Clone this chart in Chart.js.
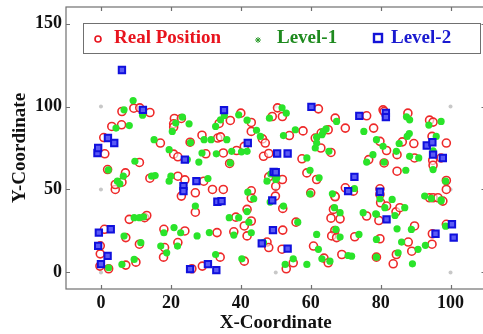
<!DOCTYPE html>
<html>
<head>
<meta charset="utf-8">
<script src="https://cdn.jsdelivr.net/npm/chart.js@4.4.1/dist/chart.umd.min.js"></script>
<style>
  html, body { margin: 0; padding: 0; background: #fff; overflow: hidden; }
  /* a bit wider than the window: the right edge of the box runs off the picture */
  #wrap { width: 492px; height: 334px; }
</style>
</head>
<body>
<div id="wrap"><canvas id="chart"></canvas></div>
<script>
// tick labels
const xTicks = [0, 20, 40, 60, 80, 100];
const yTicks = [0, 50, 100, 150];

// anchor nodes (light grey dots)
const anchors = [[0,0],[0,50],[0,100],[50,0],[50,50],[50,100],[100,0],[100,50],[100,100]];

// real node positions (red circles)
const realPos = [
  [9.4,99],[11.1,99.2],[6,97],[14,96.4],[5.9,89],[3.1,88],[0.8,81.3],[1.1,71.5],[11,66.3],[7,60],
  [4.1,50],[4.1,53],[6,54.4],[14,56.8],[1.9,62],[17,78],[21,92.8],[20.8,89.6],[20.8,87.6],[23,92.8],
  [20.8,71.3],[22,69.7],[22,58],[24,55.8],[25.5,78.5],[28.9,82.7],[30,71.5],[29.4,55],[27,48],[31.9,50],
  [35,50],[33.4,81],[34.2,81.7],[33.8,89.8],[37,91.6],[36.8,65.7],[35,72],[40,96],[38.8,73.5],[41,76],
  [43,90.4],[43,85],[46.2,80.5],[47,78],[46.5,70],[48,71.7],[48,57.6],[50,52],[50.5,99.2],[51.9,94],
  [49,94],[51.9,56],[53.9,82.5],[57.8,85.3],[57.5,68.5],[58.9,60],[60,48],[62.2,98.6],[61.3,81],[62.9,75],
  [61.7,56],[65,86],[63,84],[67,93],[65.8,72.3],[69.9,87],[69.9,51],[72.2,49],[66.9,46],[76,94.4],
  [78,87],[76.6,68],[79.8,79],[80.7,98],[81,97],[81.7,73.5],[81,66],[79.8,50.4],[79.8,47],[84.7,61],
  [84.7,71],[86.2,78.7],[87.8,96],[89.5,77.7],[89.7,69],[94,91.8],[95,90.6],[94.7,82],[94.9,67.5],[95,64.6],
  [98.8,78],[98.8,55.4],[98.8,50],[97.3,69],[94,45],[95,45],[96.4,45],[97.8,43],
  [1,26],[-0.2,16],[-0.2,11.2],[-0.3,3.8],[2.2,2.2],[7.1,4.4],[10,6.2],[8.1,32],[7.1,21],[11,17],
  [12.5,33],[13.1,34.3],[18,26],[18.2,15],[17.9,9.2],[22,18],[24,25],[23,46],[27,36.3],[26,2.2],
  [29,3.8],[33.2,24],[34.1,9.2],[38,24.5],[38.6,33.3],[41,28],[41,6.8],[41.8,38],[41.8,22],[43,49.2],
  [43,44.8],[43,31],[47.5,18.3],[48,15],[49.9,46],[52,25.5],[52,38.6],[51.8,14],[53,2.2],[55,5.8],
  [55.8,30.3],[60.8,15.9],[63.8,8.6],[65,5.8],[65.8,32.7],[67,45.6],[66.5,38],[66.9,25.3],[66,22],[67.4,21],
  [68.4,32.3],[68.9,10.8],[72.6,21.5],[76,34],[79.5,31.3],[79.8,20.3],[78.8,9.2],[80,42],[81.7,40],[83.6,5.2],
  [84.4,36.5],[84.5,10.8],[85.5,39],[87.9,18.3],[88.9,12.8],[89.7,28],[94.7,17],[94.8,23.3],[98.8,29]
];

// level-1 estimates (green)
const level1 = [
  [9.2,103.6],[11.9,94.8],[6.6,98],[4.3,87],[8.1,88.5],[2.1,61.8],[9.7,67],[4.7,55],[5.4,53.4],[6.4,58],
  [15.2,80],[14.5,58],[15.5,58.4],[19.5,74],[19.5,55],[20,58],[20.4,85],[21.4,90],[23.3,93.6],[25.2,89.6],
  [24.7,68],[25.6,78.3],[28,66.5],[28.9,72],[29.5,80],[30.6,56.6],[31.5,80],[32.8,88],[34.2,92],[35.3,94.6],
  [33,71.5],[36,80],[37,66],[37.4,73],[39.4,95],[40.2,72.7],[41.8,73],[41.8,91.8],[44.5,85.7],[45.6,82],
  [48.2,93],[47.5,55],[48.6,59.4],[51.8,99.2],[53,96],[52.2,82.5],[50.3,57],[55.6,86],[59.8,61.6],[58.9,69],
  [59.8,47.4],[61.7,81.5],[61.3,75],[61.7,78],[62.4,57],[63.2,83],[63.6,85],[64.4,86.5],[67.4,91],[65.2,73],
  [75.2,85],[76,66.5],[77.8,71],[78.8,80],[80.7,76],[81,66.4],[85.3,77.7],[87.6,82],[88.2,83.7],[87.4,93.8],
  [88.3,92],[84.5,73],[87.2,61.6],[88.3,70],[90.9,69],[93.8,88.8],[97.3,91],[95.9,82],[95,73.3],[95,62],
  [98.6,55],[97.3,43],[92.6,46],[79.8,44.4],[78.6,35.3],[72.5,50.6],
  [2.2,2.8],[6,4.8],[6.6,21.9],[9.5,7.8],[9.5,33],[11,33],[12.2,33.5],[11.4,17.9],[17.1,15.9],[18,23.9],
  [18.8,11.8],[20.9,27],[21.9,15.9],[22.8,23.9],[27,40],[27.5,22],[31,24],[32.8,10.8],[36.7,33],[38,22.5],
  [39.4,33],[40.3,8.2],[41.8,36.7],[42.3,30.3],[42,48.4],[43.7,44.4],[43,23.9],[46.5,17.9],[48.4,42.4],[50,56],
  [52.2,40],[52.7,4.8],[55,8.2],[56.3,30.3],[58.9,4.8],[61.7,22.9],[62.2,13.9],[63.2,8.2],[65.5,6.8],[66.2,47.4],
  [66.8,39],[67.2,25.9],[68.4,21.3],[68.4,36],[70.7,10.2],[71.7,9.8],[73.8,22.9],[75,36],[78.8,35],[78.8,19.9],
  [78.8,9.2],[81.2,39],[83.3,44],[84.1,34.3],[84.7,26.3],[85,11.8],[86.9,39],[86,18.3],[88.8,25.9],[89.1,5.2],
  [90.7,13.9],[92.8,16.3],[97.3,43.8],[94.5,44.6],[98.6,27.9]
];

// level-2 estimates (blue squares)
const level2 = [
  [6,122],[-1,72],[-0.8,75],[2,81],[3.8,78],[12,98],[-0.6,24],[2.8,26],[-0.8,16],[1.9,10],
  [0,5],[24,68],[23.6,52],[23.6,49],[27.3,55],[25.5,2],[30.6,5],[33,1.4],[33.3,42.6],[34.5,43],
  [35.2,97.8],[42,78],[46,17.5],[49.2,25.5],[49,43.4],[49.4,60.6],[50,60.4],[50.4,71.7],[53.4,71.7],[53.4,14.3],
  [60.2,99.8],[72.5,57.6],[70.7,49],[73.9,94.4],[81.5,96.2],[81.5,93.6],[79.8,48.6],[81.7,32],[93.2,76.5],[94.8,78.5],
  [95,71],[97.8,69],[95.7,23.3],[100.4,29],[100.9,21]
];

const toXY = arr => arr.map(p => ({ x: p[0], y: p[1] }));
const FONT = "'Liberation Serif', 'Times New Roman', serif";

// no extra room for tick labels at the ends
function noPad(s) {
  s.paddingTop = 0; s.paddingBottom = 0;
  s.paddingLeft = 0; s.paddingRight = 0;
}

// box round the plot, inward ticks on all sides
const frame = {
  id: "frame",
  afterDraw(chart) {
    const { ctx, chartArea: a, scales } = chart;
    ctx.save();
    ctx.strokeStyle = "#707070";
    ctx.lineWidth = 1.2;
    ctx.strokeRect(a.left, a.top, a.right - a.left, a.bottom - a.top);
    ctx.beginPath();
    xTicks.forEach(v => {
      const px = Math.round(scales.x.getPixelForValue(v)) + 0.5;
      ctx.moveTo(px, a.bottom); ctx.lineTo(px, a.bottom - 4);
      ctx.moveTo(px, a.top); ctx.lineTo(px, a.top + 4);
    });
    yTicks.forEach(v => {
      const py = Math.round(scales.y.getPixelForValue(v)) + 0.5;
      ctx.moveTo(a.left, py); ctx.lineTo(a.left + 4, py);
      ctx.moveTo(a.right, py); ctx.lineTo(a.right - 4, py);
    });
    ctx.stroke();
    ctx.restore();
  }
};

// legend box sits inside the plot, like the matlab one
const boxLegend = {
  id: "boxLegend",
  afterDatasetsDraw(chart) {
    const { ctx } = chart;
    ctx.save();
    ctx.fillStyle = "#fff";
    ctx.fillRect(83, 23, 397, 30);
    ctx.strokeStyle = "#707070";
    ctx.lineWidth = 1;
    ctx.strokeRect(83.5, 23.5, 397, 30);
    const cy = 38;
    // markers
    ctx.strokeStyle = "#e8141e";
    ctx.lineWidth = 1.6;
    ctx.beginPath(); ctx.arc(98, cy + 1, 3, 0, Math.PI * 2); ctx.stroke();
    ctx.strokeStyle = "#2a9a2a";
    ctx.lineWidth = 1;
    ctx.beginPath();
    for (let i = 0; i < 4; i++) {
      const ang = i * Math.PI / 4;
      ctx.moveTo(258 - 3 * Math.cos(ang), cy + 2 - 3 * Math.sin(ang));
      ctx.lineTo(258 + 3 * Math.cos(ang), cy + 2 + 3 * Math.sin(ang));
    }
    ctx.stroke();
    ctx.strokeStyle = "#1414d8";
    ctx.lineWidth = 2.4;
    ctx.strokeRect(374, cy - 4, 8, 8);
    // text
    ctx.font = "bold 19px " + FONT;
    ctx.textBaseline = "middle";
    ctx.fillStyle = "#e8141e";
    ctx.fillText("Real Position", 114, cy);
    ctx.fillStyle = "#1e8a1e";
    ctx.fillText("Level-1", 277, cy);
    ctx.fillStyle = "#1a1ad0";
    ctx.fillText("Level-2", 391, cy);
    ctx.restore();
  }
};

new Chart(document.getElementById("chart"), {
  type: "scatter",
  data: {
    datasets: [
      {
        label: "Level-2",
        data: toXY(level2),
        pointStyle: "rect",
        pointRadius: 4.5,
        borderWidth: 2,
        borderColor: "#1010dd",
        backgroundColor: "#5a5af5",
        order: 0
      },
      {
        label: "Level-1",
        data: toXY(level1),
        pointStyle: "circle",
        pointRadius: 3.6,
        borderWidth: 0,
        backgroundColor: "#2ae42a",
        order: 1
      },
      {
        label: "Real Position",
        data: toXY(realPos),
        pointStyle: "circle",
        pointRadius: 4,
        borderWidth: 1.6,
        borderColor: "#ee2a2a",
        backgroundColor: "rgba(255,255,255,0.6)",
        order: 2
      },
      {
        label: "anchors",
        data: toXY(anchors),
        pointRadius: 2,
        borderWidth: 0,
        backgroundColor: "#c8c8c8",
        order: 3
      }
    ]
  },
  options: {
    responsive: true,
    maintainAspectRatio: false,
    animation: false,
    layout: { padding: { left: 0, right: 0, top: 7, bottom: 0 } },
    plugins: {
      legend: { display: false },
      tooltip: { enabled: false }
    },
    scales: {
      x: {
        type: "linear",
        min: -10,
        max: 110,
        afterBuildTicks: s => { s.ticks = xTicks.map(v => ({ value: v })); },
        afterFit: s => { s.height = 45; noPad(s); },
        grid: { display: false, drawTicks: false },
        border: { display: false },
        ticks: { color: "#111", font: { family: FONT, size: 18, weight: "bold" }, padding: 4, maxRotation: 0 },
        title: { display: true, text: "X-Coordinate", color: "#111", font: { family: FONT, size: 19, weight: "bold" }, padding: { top: -4, bottom: 0 } }
      },
      y: {
        type: "linear",
        min: -10,
        max: 160,
        afterBuildTicks: s => { s.ticks = yTicks.map(v => ({ value: v })); },
        afterFit: s => { s.width = 66; noPad(s); },
        grid: { display: false, drawTicks: false },
        border: { display: false },
        ticks: { color: "#111", font: { family: FONT, size: 18, weight: "bold" }, padding: 4 },
        title: { display: true, text: "Y-Coordinate", color: "#111", font: { family: FONT, size: 19, weight: "bold" }, padding: { top: 9, bottom: 0 } }
      }
    }
  },
  plugins: [frame, boxLegend]
});
</script>
</body>
</html>
